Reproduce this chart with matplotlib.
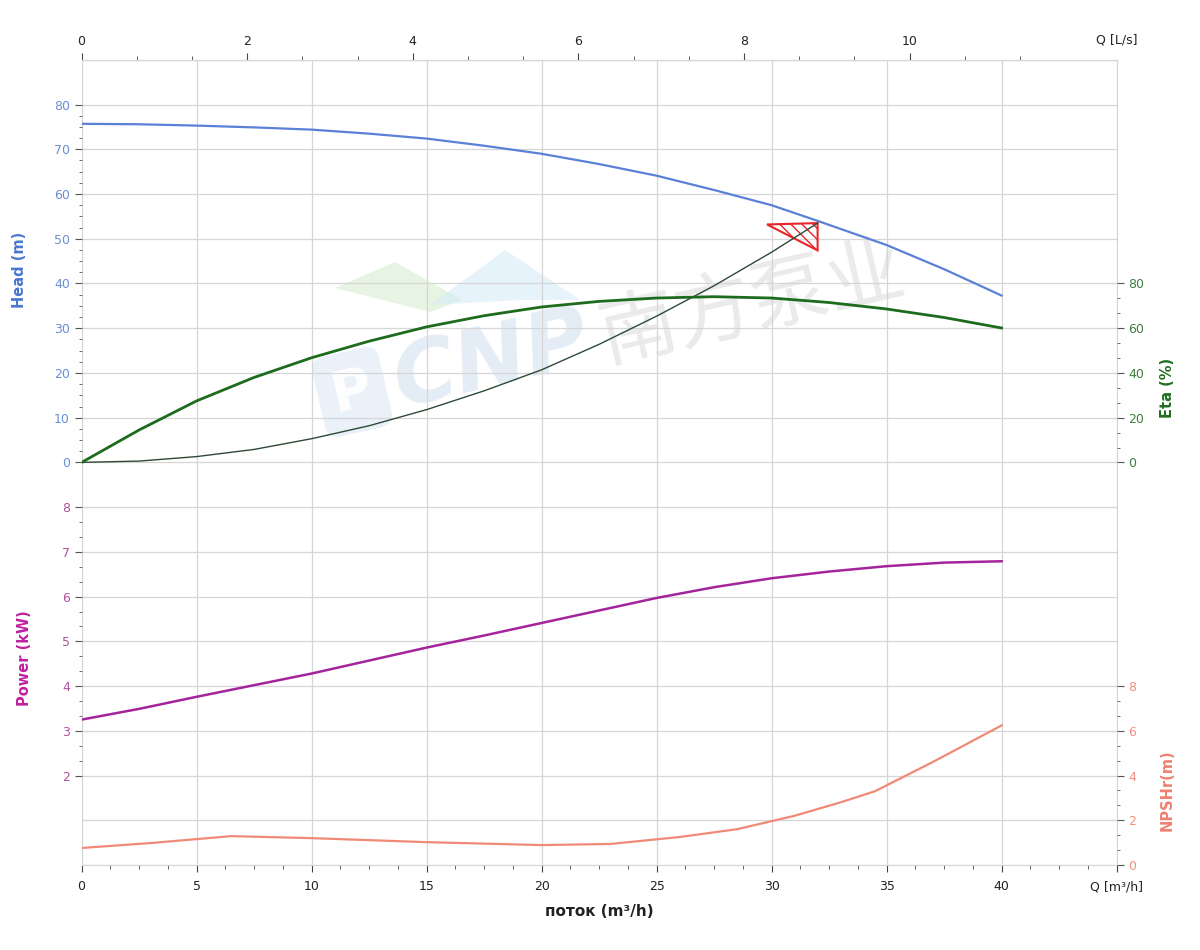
import numpy as np
import matplotlib.pyplot as plt
from matplotlib.patches import Polygon
from matplotlib.ticker import FixedLocator

plt.rcParams['font.family'] = ['DejaVu Sans', 'Noto Sans CJK SC']

# Q in m3/h
q_head = [0, 2.5, 5, 7.5, 10, 12.5, 15, 17.5, 20, 22.5, 25, 27.5, 30, 32, 35, 37.5, 40]
head = [75.7, 75.6, 75.3, 74.9, 74.4, 73.5, 72.4, 70.8, 69.0, 66.7, 64.1, 60.9, 57.5, 54.0, 48.6, 43.2, 37.3]

q_eta = [0, 2.5, 5, 7.5, 10, 12.5, 15, 17.5, 20, 22.5, 25, 27.5, 30, 32.5, 35, 37.5, 40]
eta = [0, 14.5, 27.5, 38.0, 46.8, 54.2, 60.6, 65.6, 69.5, 72.0, 73.5, 74.1, 73.5, 71.5, 68.6, 64.8, 60.1]

q_power = [0, 2.5, 5, 7.5, 10, 12.5, 15, 17.5, 20, 22.5, 25, 27.5, 30, 32.5, 35, 37.5, 40]
power = [3.25, 3.49, 3.76, 4.02, 4.28, 4.57, 4.86, 5.13, 5.41, 5.69, 5.97, 6.21, 6.41, 6.56, 6.68, 6.76, 6.79]

q_npsh = [0, 3, 6.5, 10, 15, 20, 23, 26, 28.5, 31, 33, 34.5, 37, 40]
npsh = [0.76, 0.98, 1.29, 1.2, 1.02, 0.89, 0.94, 1.25, 1.6, 2.2, 2.8, 3.3, 4.6, 6.24]

q_sys = [0, 2.5, 5, 7.5, 10, 12.5, 15, 17.5, 20, 22.5, 25, 27.5, 30, 32]
h_sys = [0, 0.3, 1.3, 2.9, 5.3, 8.2, 11.8, 16.0, 20.7, 26.4, 32.7, 39.5, 47.0, 53.5]

duty_q, duty_h = 32, 53.5

fig = plt.figure(figsize=(12, 9.5), dpi=100)
ax = fig.add_axes([0.068, 0.0895, 0.8625, 0.8475])
ax.set_xlim(0, 45)
ax.set_ylim(0, 18)

gridc = '#d6d6d6'
for s in ax.spines.values():
    s.set_color(gridc)
ax.set_yticks(range(19))
ax.tick_params(axis='y', length=0, labelleft=False)
ax.grid(True, color=gridc, lw=0.9)

ax.set_xticks(range(0, 46, 5))
ax.set_xticklabels([str(v) for v in range(0, 41, 5)] + ['Q [m³/h]'])
ax.xaxis.set_minor_locator(FixedLocator(np.arange(0, 45.1, 1.25)))
ax.tick_params(axis='x', which='both', color='#444444', labelsize=9, labelcolor='#222222', direction='out')
ax.tick_params(axis='x', which='major', length=5, pad=6)
ax.tick_params(axis='x', which='minor', length=3)
ax.set_xlabel('поток (m³/h)', fontsize=11, fontweight='bold', color='#222222', labelpad=8)

top = ax.secondary_xaxis('top', functions=(lambda q: q / 3.6, lambda l: l * 3.6))
top.set_xticks(range(0, 11, 2))
top.xaxis.set_minor_locator(FixedLocator(np.arange(0, 11.4, 2 / 3)))
top.tick_params(which='both', color='#444444', labelsize=9, labelcolor='#222222')
top.tick_params(which='major', length=5)
top.tick_params(which='minor', length=3)
top.spines['top'].set_color(gridc)
ax.annotate('Q [L/s]', xy=(1.0, 1.0), xycoords='axes fraction', xytext=(0, 14.5),
            textcoords='offset points', ha='center', va='center', fontsize=9, color='#222222')

# watermark, kept under the curves
ax.add_patch(Polygon([(335 / 1200, 1 - 288 / 950), (395 / 1200, 1 - 262 / 950), (462 / 1200, 1 - 300 / 950),
                      (430 / 1200, 1 - 312 / 950)], closed=True, transform=fig.transFigure,
                     facecolor='#d8eed3', alpha=0.6, edgecolor='none', zorder=1))
ax.add_patch(Polygon([(430 / 1200, 1 - 305 / 950), (505 / 1200, 1 - 250 / 950), (580 / 1200, 1 - 300 / 950),
                      (520 / 1200, 1 - 300 / 950)], closed=True, transform=fig.transFigure,
                     facecolor='#d6ebf7', alpha=0.6, edgecolor='none', zorder=1))
ax.text(352 / 1200, 1 - 392 / 950, 'P', transform=fig.transFigure, rotation=13, ha='center', va='center',
        fontsize=40, fontweight='bold', color='white', zorder=1,
        bbox=dict(boxstyle='round,pad=0.25', fc='#dde9f5', ec='none', alpha=0.6))
ax.text(492 / 1200, 1 - 362 / 950, 'CNP', transform=fig.transFigure, rotation=13, ha='center', va='center',
        fontsize=62, fontweight='bold', fontstyle='italic', color='#d9e5f1', alpha=0.7, zorder=1)
ax.text(752 / 1200, 1 - 305 / 950, '南方泵业', transform=fig.transFigure, rotation=13, ha='center', va='center',
        fontsize=56, family=['Noto Sans CJK SC', 'DejaVu Sans'], color='#e2e2e2', alpha=0.7, zorder=1)

# power axis (left, bottom part)
c_pow = '#a3249b'
axp = ax.twinx()
axp.set_ylim(0, 18)
axp.yaxis.tick_left()
axp.set_yticks(range(2, 9))
axp.yaxis.set_minor_locator(FixedLocator([v for v in np.arange(2, 8.01, 1 / 3) if abs(v - round(v)) > 0.01]))
axp.tick_params(which='both', color='#555555', labelcolor='#b0509f', labelsize=9)
axp.tick_params(which='major', length=5)
axp.tick_params(which='minor', length=2.5)
axp.plot(q_power, power, color=c_pow, lw=1.8)

# head axis (left, top part)
c_head = '#5b80d8'
axh = ax.twinx()
axh.set_ylim(-90, 90)
axh.yaxis.tick_left()
axh.set_yticks(range(0, 81, 10))
axh.yaxis.set_minor_locator(FixedLocator([v for v in np.arange(0, 80.1, 2.5) if v % 10]))
axh.tick_params(which='both', color='#555555', labelcolor='#6b8fd4', labelsize=9)
axh.tick_params(which='major', length=5)
axh.tick_params(which='minor', length=2.5)
axh.plot(q_head, head, color=c_head, lw=1.6)
axh.plot(q_sys, h_sys, color='#2e4a36', lw=1.0)
tri = Polygon([(duty_q - 2.2, duty_h - 0.3), (duty_q, duty_h), (duty_q, duty_h - 6.1)],
              closed=True, facecolor='none', edgecolor='#e8262a', hatch='\\\\\\', lw=1.5)
axh.add_patch(tri)

# eta axis (right, middle)
c_eta = '#1d6b1d'
axe = ax.twinx()
axe.set_ylim(-180, 180)
axe.set_yticks(range(0, 81, 20))
axe.yaxis.set_minor_locator(FixedLocator([v for v in np.arange(0, 80.1, 20 / 3) if abs(v / 20 - round(v / 20)) > 0.01]))
axe.tick_params(which='both', color='#555555', labelcolor='#3f7f3f', labelsize=9)
axe.tick_params(which='major', length=5)
axe.tick_params(which='minor', length=2.5)
axe.plot(q_eta, eta, color=c_eta, lw=2.0)

# npsh axis (right, bottom)
c_npsh = '#f08a76'
axn = ax.twinx()
axn.set_ylim(0, 36)
axn.set_yticks(range(0, 9, 2))
axn.yaxis.set_minor_locator(FixedLocator([v for v in np.arange(0, 8.01, 2 / 3) if abs(v / 2 - round(v / 2)) > 0.01]))
axn.tick_params(which='both', color='#555555', labelcolor='#f0907e', labelsize=9)
axn.tick_params(which='major', length=5)
axn.tick_params(which='minor', length=2.5)
axn.plot(q_npsh, npsh, color=c_npsh, lw=1.6)

for a in (axp, axh, axe, axn):
    for s in a.spines.values():
        s.set_visible(False)

fig.text(20 / 1200, 1 - 270 / 950, 'Head (m)', rotation=90, ha='center', va='center',
         fontsize=10.5, fontweight='bold', color='#4a78d0')
fig.text(25 / 1200, 1 - 658 / 950, 'Power (kW)', rotation=90, ha='center', va='center',
         fontsize=10.5, fontweight='bold', color='#c020a0')
fig.text(1167 / 1200, 1 - 388 / 950, 'Eta (%)', rotation=90, ha='center', va='center',
         fontsize=10.5, fontweight='bold', color='#1e6e1e')
fig.text(1167 / 1200, 1 - 790 / 950, 'NPSHr(m)', rotation=90, ha='center', va='center',
         fontsize=10.5, fontweight='bold', color='#f08070')

fig.savefig('out.png', dpi=100)
